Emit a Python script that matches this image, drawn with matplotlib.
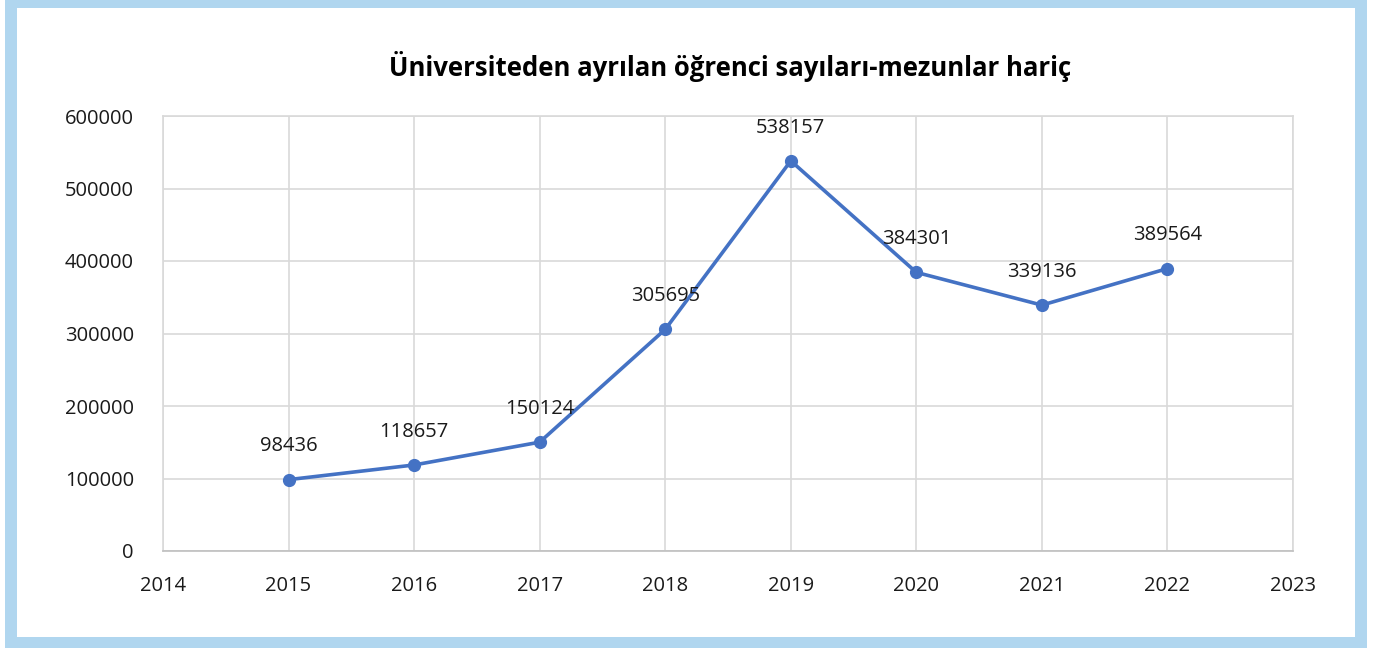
import matplotlib
matplotlib.use("Agg")
import matplotlib.pyplot as plt
from matplotlib.patches import Rectangle

years = [2015, 2016, 2017, 2018, 2019, 2020, 2021, 2022]
values = [98436, 118657, 150124, 305695, 538157, 384301, 339136, 389564]
x_ticks = [2014, 2015, 2016, 2017, 2018, 2019, 2020, 2021, 2022, 2023]
y_ticks = [0, 100000, 200000, 300000, 400000, 500000, 600000]
title = "Üniversiteden ayrılan öğrenci sayıları-mezunlar hariç"

plt.rcParams['font.family'] = ['Open Sans', 'DejaVu Sans']

W, H = 1386, 648
fig = plt.figure(figsize=(W / 100, H / 100), dpi=100)
fig.patch.set_facecolor("white")

# light blue frame
frame_color = "#B0D6EF"
fig.patches.append(Rectangle((5 / W, 0), (1367 - 5) / W, 1, transform=fig.transFigure,
                             facecolor=frame_color, edgecolor="none", zorder=-10))
fig.patches.append(Rectangle((17 / W, (H - 637) / H), (1355 - 17) / W, (637 - 8) / H,
                             transform=fig.transFigure, facecolor="white",
                             edgecolor="none", zorder=-9))

left, right, top, bottom = 163, 1293, 116, 551
ax = fig.add_axes([left / W, 1 - bottom / H, (right - left) / W, (bottom - top) / H])
ax.set_facecolor("none")
ax.set_zorder(5)

line_color = "#4472C4"
ax.plot(years, values, color=line_color, lw=2.6, marker="o", ms=8.5, zorder=3)

text_color = "#1A1A1A"
for x, y in zip(years, values):
    ax.annotate(str(y), (x, y), xytext=(0, 24), textcoords="offset points",
                ha="center", va="center", fontsize=14.5, color=text_color, zorder=4)

ax.set_xlim(2014, 2023)
ax.set_ylim(0, 600000)
ax.set_xticks(x_ticks)
ax.set_xticklabels([str(t) for t in x_ticks])
ax.set_yticks(y_ticks)
ax.set_yticklabels([str(t) for t in y_ticks])
ax.grid(True, color="#D9D9D9", lw=1.2, zorder=0)
ax.set_axisbelow(True)
for s in ax.spines.values():
    s.set_color("#D9D9D9")
    s.set_linewidth(1.2)
ax.spines["bottom"].set_color("#BFBFBF")
ax.tick_params(axis="both", length=0, labelsize=14.5, colors=text_color)
ax.tick_params(axis="x", pad=18)
ax.tick_params(axis="y", pad=21)

fig.text(730 / W, 1 - 66 / H, title, ha="center", va="center",
         fontsize=18.5, fontweight="bold", color="#000000", zorder=6)

fig.savefig("out.png", dpi=100)
